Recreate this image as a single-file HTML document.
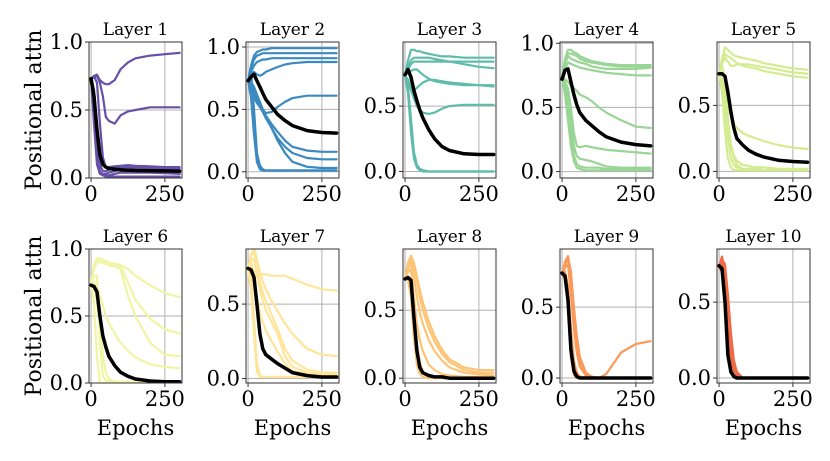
<!DOCTYPE html>
<html><head><meta charset="utf-8"><style>
html,body{margin:0;padding:0;background:#fff}
svg{display:block}
text{font-family:"DejaVu Serif","Liberation Serif",serif;fill:#000}
</style></head><body>
<svg id="fig" width="830" height="461"></svg>
<script>
const epochs=[0,10,20,30,40,50,60,80,100,125,150,200,250,300];
const xTicks=[0,250];
const titles=["Layer 1","Layer 2","Layer 3","Layer 4","Layer 5","Layer 6","Layer 7","Layer 8","Layer 9","Layer 10"];
const colors=["#6650a8","#3a89c0","#5fbcaa","#99d594","#d4ec8f","#eff5a3","#fee59a","#fdc475","#fa9a5a","#f06a45"];
const yTicksAll=[[0,0.5,1],[0,0.5,1],[0,0.5],[0,0.5,1],[0,0.5],[0,0.5,1],[0,0.5],[0,0.5],[0,0.5],[0,0.5]];
const yLims=[[0,1],[-0.05,1.04],[-0.05,0.99],[-0.05,1.01],[-0.05,0.98],[0,1],[-0.03,0.87],[-0.035,0.95],[-0.035,0.91],[-0.033,0.85]];
const means=[
[0.73,0.6,0.35,0.17,0.1,0.08,0.07,0.065,0.06,0.058,0.055,0.053,0.052,0.05],
[0.73,0.76,0.78,0.73,0.68,0.63,0.58,0.52,0.46,0.41,0.37,0.33,0.315,0.31],
[0.74,0.78,0.72,0.62,0.54,0.47,0.41,0.32,0.25,0.19,0.16,0.135,0.13,0.13],
[0.72,0.79,0.8,0.7,0.6,0.52,0.46,0.4,0.36,0.31,0.27,0.23,0.21,0.2],
[0.74,0.74,0.72,0.6,0.45,0.33,0.25,0.2,0.16,0.13,0.11,0.085,0.075,0.07],
[0.73,0.72,0.68,0.5,0.35,0.27,0.2,0.13,0.08,0.05,0.03,0.015,0.01,0.01],
[0.74,0.73,0.68,0.5,0.3,0.2,0.16,0.13,0.1,0.07,0.04,0.02,0.01,0.01],
[0.73,0.74,0.72,0.45,0.2,0.08,0.04,0.02,0.01,0.01,0,0,0,0],
[0.74,0.72,0.55,0.2,0.05,0.01,0,0,0,0,0,0,0,0],
[0.74,0.72,0.5,0.15,0.04,0.01,0,0,0,0,0,0,0,0]];
const heads=[
[[0.73,0.75,0.76,0.72,0.7,0.69,0.69,0.72,0.8,0.85,0.88,0.9,0.91,0.92],
 [0.73,0.74,0.75,0.7,0.6,0.45,0.42,0.4,0.46,0.49,0.5,0.52,0.52,0.52],
 [0.73,0.75,0.7,0.4,0.15,0.08,0.07,0.08,0.09,0.09,0.085,0.08,0.075,0.07],
 [0.73,0.6,0.3,0.1,0.05,0.05,0.06,0.07,0.08,0.08,0.075,0.07,0.065,0.06],
 [0.73,0.5,0.15,0.04,0.03,0.03,0.04,0.05,0.06,0.06,0.06,0.055,0.05,0.05],
 [0.73,0.4,0.1,0.03,0.02,0.02,0.02,0.03,0.04,0.04,0.04,0.04,0.035,0.03],
 [0.73,0.55,0.2,0.05,0.02,0.01,0.01,0.01,0.01,0.01,0.01,0.01,0.01,0.01],
 [0.73,0.65,0.4,0.2,0.1,0.08,0.08,0.085,0.09,0.095,0.09,0.085,0.08,0.08]],
[[0.73,0.85,0.93,0.96,0.97,0.98,0.98,0.99,0.99,0.99,0.99,0.99,0.99,0.99],
 [0.73,0.83,0.9,0.93,0.94,0.95,0.95,0.95,0.95,0.95,0.95,0.95,0.95,0.95],
 [0.73,0.8,0.85,0.88,0.89,0.9,0.9,0.91,0.91,0.91,0.91,0.91,0.91,0.91],
 [0.73,0.78,0.8,0.78,0.77,0.78,0.8,0.82,0.84,0.86,0.87,0.88,0.88,0.88],
 [0.73,0.72,0.68,0.62,0.56,0.5,0.47,0.48,0.52,0.56,0.59,0.61,0.61,0.61],
 [0.73,0.7,0.65,0.6,0.55,0.5,0.45,0.38,0.32,0.25,0.2,0.17,0.16,0.16],
 [0.73,0.68,0.62,0.57,0.52,0.48,0.43,0.35,0.27,0.2,0.15,0.11,0.1,0.1],
 [0.73,0.66,0.6,0.55,0.52,0.5,0.45,0.35,0.25,0.15,0.08,0.04,0.03,0.03],
 [0.73,0.6,0.3,0.08,0.02,0.01,0.01,0.01,0.01,0.01,0.01,0.01,0.01,0.01],
 [0.73,0.8,0.5,0.15,0.05,0.02,0.01,0.01,0.01,0.01,0.01,0.01,0.01,0.01]],
[[0.73,0.85,0.93,0.93,0.92,0.92,0.91,0.9,0.89,0.88,0.88,0.87,0.87,0.87],
 [0.73,0.8,0.85,0.87,0.87,0.87,0.87,0.87,0.86,0.85,0.84,0.82,0.8,0.79],
 [0.73,0.78,0.82,0.84,0.84,0.84,0.84,0.84,0.84,0.84,0.84,0.84,0.84,0.84],
 [0.73,0.76,0.77,0.78,0.78,0.76,0.74,0.71,0.69,0.68,0.67,0.66,0.66,0.66],
 [0.73,0.7,0.63,0.62,0.64,0.66,0.68,0.7,0.7,0.69,0.68,0.67,0.66,0.65],
 [0.73,0.7,0.62,0.56,0.5,0.47,0.45,0.44,0.45,0.48,0.5,0.51,0.51,0.51],
 [0.73,0.6,0.3,0.1,0.03,0.01,0,0,0,0,0,0,0,0],
 [0.73,0.65,0.4,0.15,0.05,0.02,0.01,0,0,0,0,0,0,0]],
[[0.73,0.88,0.95,0.95,0.93,0.92,0.9,0.88,0.86,0.85,0.84,0.83,0.83,0.83],
 [0.73,0.86,0.92,0.92,0.91,0.9,0.88,0.86,0.85,0.84,0.83,0.82,0.82,0.82],
 [0.73,0.84,0.9,0.88,0.87,0.86,0.85,0.84,0.82,0.81,0.8,0.8,0.8,0.81],
 [0.73,0.8,0.85,0.84,0.83,0.82,0.81,0.8,0.79,0.78,0.77,0.76,0.75,0.75],
 [0.73,0.72,0.7,0.67,0.65,0.63,0.6,0.58,0.55,0.5,0.46,0.4,0.35,0.34],
 [0.73,0.7,0.65,0.5,0.3,0.2,0.19,0.2,0.19,0.18,0.17,0.16,0.15,0.14],
 [0.73,0.7,0.6,0.4,0.2,0.12,0.1,0.09,0.08,0.06,0.04,0.03,0.03,0.03],
 [0.73,0.65,0.5,0.3,0.12,0.06,0.04,0.03,0.03,0.03,0.02,0.02,0.02,0.02],
 [0.73,0.6,0.4,0.2,0.08,0.03,0.02,0.01,0.01,0.01,0.01,0.01,0.01,0.01]],
[[0.73,0.85,0.94,0.92,0.9,0.88,0.87,0.86,0.85,0.84,0.82,0.8,0.78,0.77],
 [0.73,0.82,0.86,0.83,0.8,0.8,0.81,0.81,0.81,0.8,0.79,0.77,0.75,0.74],
 [0.73,0.84,0.89,0.87,0.86,0.84,0.82,0.8,0.79,0.78,0.76,0.74,0.72,0.71],
 [0.73,0.7,0.6,0.5,0.42,0.36,0.33,0.29,0.27,0.25,0.23,0.2,0.18,0.17],
 [0.73,0.8,0.7,0.4,0.2,0.12,0.08,0.05,0.04,0.03,0.03,0.02,0.02,0.02],
 [0.73,0.7,0.5,0.25,0.1,0.05,0.03,0.02,0.02,0.02,0.01,0.01,0.01,0.01],
 [0.73,0.6,0.3,0.1,0.03,0.01,0.01,0.01,0.01,0.01,0.01,0.01,0.01,0.01],
 [0.73,0.65,0.45,0.3,0.2,0.1,0.05,0.02,0.01,0.01,0.01,0.01,0.01,0.01]],
[[0.73,0.88,0.93,0.93,0.92,0.91,0.9,0.89,0.88,0.85,0.8,0.73,0.67,0.64],
 [0.73,0.87,0.91,0.91,0.9,0.89,0.88,0.88,0.87,0.75,0.62,0.48,0.4,0.37],
 [0.73,0.85,0.9,0.9,0.9,0.89,0.88,0.87,0.85,0.65,0.5,0.3,0.21,0.2],
 [0.73,0.75,0.72,0.65,0.58,0.5,0.45,0.37,0.3,0.24,0.19,0.14,0.12,0.11],
 [0.73,0.8,0.8,0.3,0.05,0.02,0.01,0.01,0.01,0.01,0.01,0.01,0.01,0.01],
 [0.73,0.6,0.2,0,0,0,0,0,0,0,0,0,0,0],
 [0.73,0.75,0.6,0.4,0.2,0.08,0.03,0.01,0,0,0,0,0,0]],
[[0.73,0.75,0.72,0.7,0.7,0.7,0.7,0.69,0.69,0.69,0.67,0.63,0.6,0.59],
 [0.73,0.82,0.88,0.8,0.72,0.65,0.6,0.52,0.45,0.37,0.3,0.2,0.16,0.15],
 [0.73,0.84,0.85,0.75,0.65,0.58,0.52,0.43,0.33,0.2,0.12,0.06,0.04,0.04],
 [0.73,0.8,0.8,0.7,0.6,0.52,0.46,0.38,0.3,0.15,0.08,0.04,0.03,0.03],
 [0.73,0.78,0.7,0.55,0.45,0.38,0.32,0.25,0.18,0.1,0.05,0.03,0.02,0.02],
 [0.73,0.6,0.3,0.05,0.01,0.01,0.01,0.01,0.01,0.01,0.01,0.01,0.01,0.01],
 [0.73,0.7,0.4,0.1,0.02,0.01,0.01,0.01,0.01,0.01,0.01,0.01,0.01,0.01]],
[[0.73,0.85,0.9,0.85,0.75,0.65,0.56,0.42,0.31,0.21,0.14,0.08,0.06,0.06],
 [0.73,0.84,0.88,0.82,0.72,0.6,0.5,0.37,0.27,0.18,0.12,0.06,0.04,0.04],
 [0.73,0.8,0.85,0.75,0.6,0.48,0.4,0.28,0.2,0.13,0.08,0.04,0.03,0.02],
 [0.73,0.78,0.8,0.6,0.4,0.28,0.2,0.1,0.06,0.03,0.02,0.01,0.01,0.01],
 [0.73,0.72,0.6,0.3,0.1,0.03,0.01,0,0,0,0,0,0,0],
 [0.73,0.75,0.7,0.45,0.25,0.12,0.05,0.02,0.01,0,0,0,0,0]],
[[0.73,0.82,0.86,0.75,0.5,0.3,0.15,0.04,0.01,0,0,0,0,0],
 [0.73,0.8,0.84,0.7,0.45,0.25,0.12,0.03,0.01,0,0.03,0.18,0.24,0.26],
 [0.73,0.78,0.8,0.6,0.35,0.18,0.08,0.02,0,0,0,0,0,0],
 [0.73,0.7,0.5,0.15,0.02,0,0,0,0,0,0,0,0,0],
 [0.73,0.75,0.65,0.35,0.12,0.04,0.01,0,0,0,0,0,0,0]],
[[0.73,0.78,0.75,0.55,0.3,0.12,0.04,0,0,0,0,0,0,0],
 [0.73,0.8,0.7,0.45,0.2,0.07,0.02,0,0,0,0,0,0,0],
 [0.73,0.7,0.5,0.2,0.05,0.01,0,0,0,0,0,0,0,0],
 [0.73,0.75,0.6,0.35,0.12,0.03,0,0,0,0,0,0,0,0]]];

const NS="http://www.w3.org/2000/svg";
const svg=document.getElementById('fig');
function mk(tag,attrs,parent){const e=document.createElementNS(NS,tag);for(const k in attrs)e.setAttribute(k,attrs[k]);(parent||svg).appendChild(e);return e;}
const lefts=[89,246,403,560,717], W=93;
const rows=[[42,178],[249,383]];
const xLim=[-7,308];
for(let p=0;p<10;p++){
  const r=Math.floor(p/5), L=lefts[p%5], T=rows[r][0], B=rows[r][1];
  const g=mk('g',{});
  
  
  const xs=v=>L+(v-xLim[0])/(xLim[1]-xLim[0])*W;
  const ys=v=>B-(v-yLims[p][0])/(yLims[p][1]-yLims[p][0])*(B-T);
  xTicks.forEach(t=>{
    const l=mk('line',{x1:xs(t),x2:xs(t),y1:T,y2:B,stroke:'#b0b0b0','stroke-width':1},g);
    
    
    const tk=mk('line',{x1:xs(t),x2:xs(t),y1:B,y2:B+4,stroke:'#333','stroke-width':1},g);
    
    
    const tx=mk('text',{x:xs(t),y:B+23,'text-anchor':'middle','font-size':21},g);
    tx.textContent=t;
    
    
  });
  yTicksAll[p].forEach(t=>{
    const l=mk('line',{x1:L,x2:L+W,y1:ys(t),y2:ys(t),stroke:'#b0b0b0','stroke-width':1},g);
    
    
    const tk=mk('line',{x1:L-4,x2:L,y1:ys(t),y2:ys(t),stroke:'#333','stroke-width':1},g);
    
    
    const tx=mk('text',{x:L-6,y:ys(t)+7,'text-anchor':'end','font-size':21},g);
    tx.textContent=t.toFixed(1);
    
    
  });
  const clipId='c'+p;
  const cp=mk('clipPath',{id:clipId},g);
  mk('rect',{x:L,y:T,width:W,height:B-T},cp);
  const lines=mk('g',{'clip-path':'url(#'+clipId+')'},g);
  heads[p].forEach(h=>{
    const pts=h.map((v,i)=>xs(epochs[i]).toFixed(1)+','+ys(v).toFixed(1)).join(' ');
    const pl=mk('polyline',{points:pts,fill:'none',stroke:colors[p],'stroke-width':2.2,'stroke-linejoin':'round','stroke-linecap':'round'},lines);
    
    
  });
  const mp=means[p].map((v,i)=>xs(epochs[i]).toFixed(1)+','+ys(v).toFixed(1)).join(' ');
  const m=mk('polyline',{points:mp,fill:'none',stroke:'#000','stroke-width':3.5,'stroke-linejoin':'round','stroke-linecap':'round'},lines);
  
  
  const fr=mk('rect',{x:L,y:T,width:W,height:B-T,fill:'none',stroke:'#333','stroke-width':1},g);
  
  
  const ti=mk('text',{x:L+W/2,y:T-7,'text-anchor':'middle','font-size':17},g);
  ti.textContent=titles[p];
  
  
  if(p%5===0){
    const yl=mk('text',{x:0,y:0,'text-anchor':'middle','font-size':22,transform:'translate(41,'+((T+B)/2)+') rotate(-90)'},g);
    yl.textContent='Positional attn';
    
    
  }
  if(r===1){
    const xl=mk('text',{x:L+W/2,y:435,'text-anchor':'middle','font-size':21},g);
    xl.textContent='Epochs';
    
    
  }
}
</script>
</body></html>
